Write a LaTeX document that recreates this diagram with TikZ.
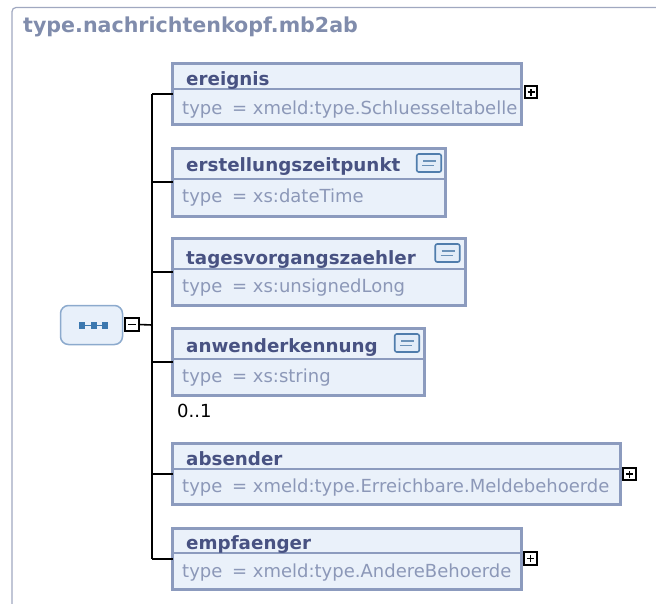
\documentclass[tikz,border=0pt]{standalone}
\usepackage{fontspec}
\setmainfont{DejaVu Sans}
\definecolor{framec}{RGB}{160,168,192}
\definecolor{titlec}{RGB}{128,140,172}
\definecolor{boxdraw}{RGB}{140,155,190}
\definecolor{boxfill}{RGB}{234,241,250}
\definecolor{namec}{RGB}{72,82,130}
\definecolor{typec}{RGB}{140,152,184}
\definecolor{icondraw}{RGB}{80,125,172}
\definecolor{iconfill}{RGB}{226,236,248}
\definecolor{seqdraw}{RGB}{140,170,205}
\definecolor{seqfill}{RGB}{232,240,250}
\definecolor{seqsq}{RGB}{60,120,175}
\newcommand\tyeq{type\hspace{4pt} = }
\begin{document}
\begin{tikzpicture}[x=1pt,y=-1pt,
  elbox/.style={draw=boxdraw, line width=3pt, fill=boxfill, inner sep=0pt, outer sep=0pt},
  divline/.style={draw=boxdraw, line width=1.2pt},
  elname/.style={anchor=base west, font=\fontsize{18.3}{20}\selectfont\bfseries, text=namec, inner sep=0pt},
  eltype/.style={anchor=base west, font=\fontsize{18}{20}\selectfont, text=typec, inner sep=0pt},
  docicon/.style={draw=icondraw, line width=1.6pt, fill=iconfill, rounded corners=2pt, minimum width=24.5pt, minimum height=18pt, inner sep=0pt, outer sep=0pt},
  expbox/.style={draw=black, line width=1.6pt, fill=white, minimum width=12.5pt, minimum height=12.5pt, inner sep=0pt, outer sep=0pt},
  conn/.style={draw=black, line width=1.6pt},
]
\useasboundingbox (0,0) rectangle (656,603);
% outer frame
\draw[framec, line width=1.2pt, rounded corners=4pt] (12,610) -- (12,7.5) -- (656,7.5);
\node[anchor=base west, font=\fontsize{20.6}{22}\selectfont\bfseries, text=titlec, inner sep=0pt] (ctitle) at (23,32) {type.nachrichtenkopf.mb2ab};

% sequence compositor
\node[draw=seqdraw, fill=seqfill, line width=1.5pt, rounded corners=8pt, minimum width=62pt, minimum height=39pt, inner sep=0pt, outer sep=0pt] (seq) at (91.5,325) {};
\foreach \xx in {82,93.5,105} {
  \fill[seqsq] (\xx-3,322) rectangle (\xx+3,328.5);
}
\draw[seqsq, line width=1pt] (85,325.2) -- (90.5,325.2) (96.5,325.2) -- (102,325.2);
\node[expbox, minimum width=14pt, minimum height=13.5pt] (seqm) at (132,324.5) {};
\draw[black, line width=1.6pt] (128,324.5) -- (136,324.5);
\coordinate (bus) at (152,325);

% elements
\node[elbox, minimum width=349pt, minimum height=61pt] (e1) at (347,94) {};
\draw[divline] (173,89) -- (521,89);
\node[elname] (n1) at (186,85) {ereignis};
\node[eltype] (t1) at (182,114) {\tyeq xmeld:type.Schluesseltabelle};

\node[elbox, minimum width=273pt, minimum height=68pt] (e2) at (309,182) {};
\draw[divline] (173,179) -- (445,179);
\node[elname] (n2) at (186,171) {erstellungszeitpunkt};
\node[eltype] (t2) at (182,202) {\tyeq xs:dateTime};
\node[docicon] (i2) at (429,163) {};

\node[elbox, minimum width=293pt, minimum height=67pt] (e3) at (319,272) {};
\draw[divline] (173,269) -- (465,269);
\node[elname] (n3) at (186,264) {tagesvorgangszaehler};
\node[eltype] (t3) at (182,292) {\tyeq xs:unsignedLong};
\node[docicon] (i3) at (447.5,253) {};

\node[elbox, minimum width=252pt, minimum height=67pt] (e4) at (298.5,362) {};
\draw[divline] (173,359) -- (424,359);
\node[elname] (n4) at (186,352) {anwenderkennung};
\node[eltype] (t4) at (182,382) {\tyeq xs:string};
\node[docicon] (i4) at (407,343) {};
\node[anchor=base west, font=\fontsize{18}{20}\selectfont, inner sep=0pt] (occ4) at (177,417) {0..1};

\node[elbox, minimum width=448pt, minimum height=61pt] (e5) at (396.5,474) {};
\draw[divline] (173,469) -- (620,469);
\node[elname] (n5) at (186,465) {absender};
\node[eltype] (t5) at (182,492) {\tyeq xmeld:type.Erreichbare.Meldebehoerde};

\node[elbox, minimum width=349pt, minimum height=61pt] (e6) at (347,559) {};
\draw[divline] (173,553) -- (521,553);
\node[elname] (n6) at (186,549) {empfaenger};
\node[eltype] (t6) at (182,577) {\tyeq xmeld:type.AndereBehoerde};

% doc icon strokes
\foreach \ic in {i2,i3,i4} {
  \draw[icondraw!85, line width=1.6pt] ([xshift=-6pt,yshift=2pt]\ic.center) -- ([xshift=7pt,yshift=2pt]\ic.center);
  \draw[icondraw!85, line width=1.6pt] ([xshift=-7pt,yshift=-2.5pt]\ic.center) -- ([xshift=5pt,yshift=-2.5pt]\ic.center);
}

% expand boxes
\node[expbox] (x1) at (531,92) {};
\node[expbox] (x5) at (629.5,474) {};
\node[expbox] (x6) at (530.5,558.5) {};
\foreach \xb in {x1,x5,x6} {
  \draw[black, line width=1.8pt] ([xshift=-3.5pt]\xb.center) -- ([xshift=3.5pt]\xb.center);
  \draw[black, line width=1.8pt] ([yshift=-3.5pt]\xb.center) -- ([yshift=3.5pt]\xb.center);
}

% connectors
\draw[conn] (seqm.east) -- (bus);
\draw[conn] (bus |- e1.west) -- (bus |- e6.west);
\foreach \el in {e1,e2,e3,e4,e5,e6} {
  \draw[conn] (bus |- \el.west) -- (\el.west);
}
\end{tikzpicture}
\end{document}
